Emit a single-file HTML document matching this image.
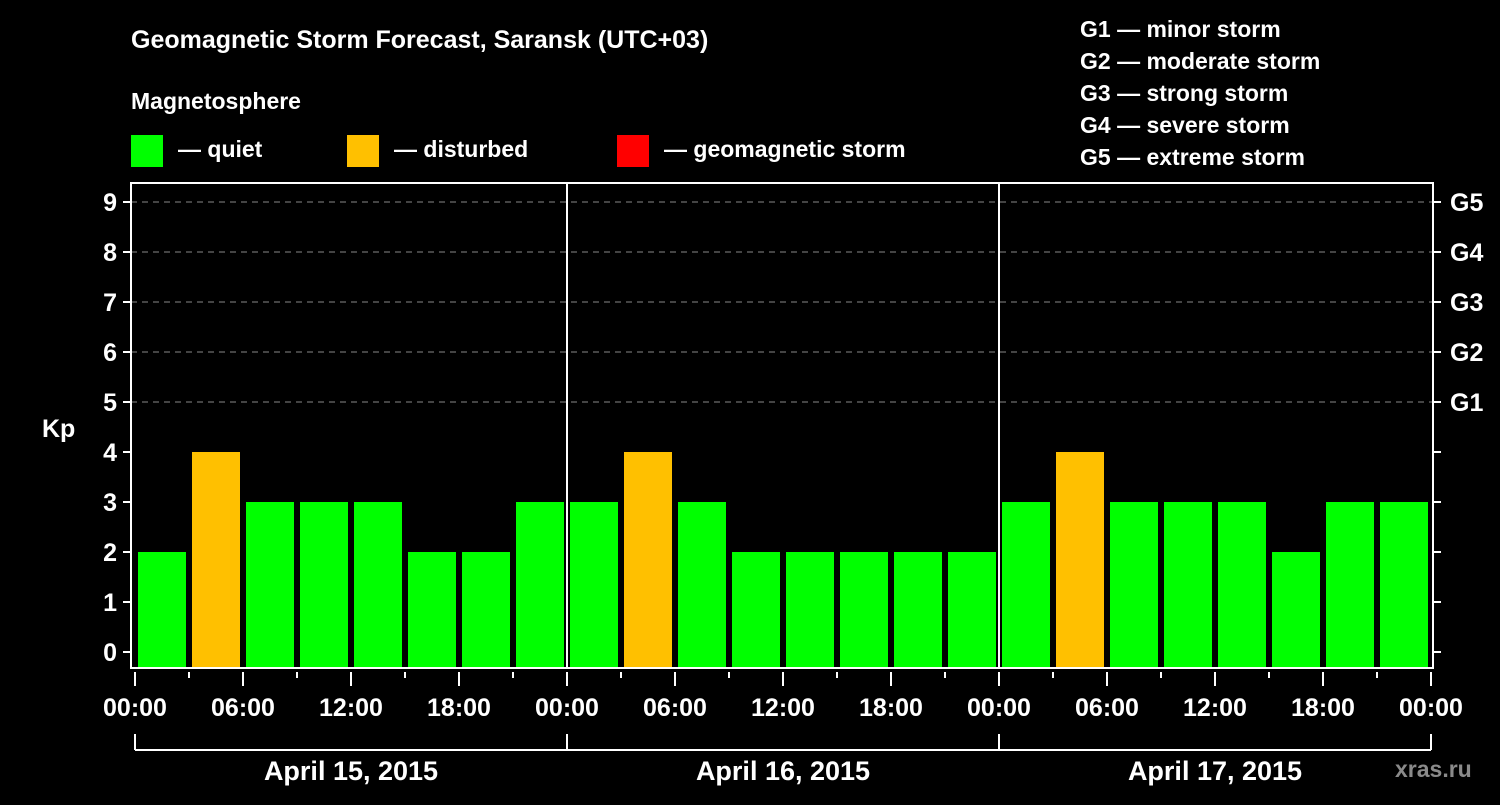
<!DOCTYPE html>
<html><head><meta charset="utf-8"><style>
body{margin:0;background:#000;width:1500px;height:800px;overflow:hidden}
svg text{font-family:"Liberation Sans",Arial,sans-serif;font-weight:bold;fill:#fff}
</style></head><body>
<svg id="c" width="1500" height="800" viewBox="0 0 1500 800">
<text x="131" y="48" font-size="25">Geomagnetic Storm Forecast, Saransk (UTC+03)</text>
<text x="131" y="109" font-size="23">Magnetosphere</text>
<g><rect x="131" y="135" width="32" height="32" fill="#00ff00"/><text x="178" y="157" font-size="23">— quiet</text></g>
<g><rect x="347" y="135" width="32" height="32" fill="#ffc000"/><text x="394" y="157" font-size="23">— disturbed</text></g>
<g><rect x="617" y="135" width="32" height="32" fill="#ff0000"/><text x="664" y="157" font-size="23">— geomagnetic storm</text></g>
<g font-size="23">
<text x="1080" y="37">G1 — minor storm</text><text x="1080" y="69">G2 — moderate storm</text><text x="1080" y="101">G3 — strong storm</text><text x="1080" y="133">G4 — severe storm</text><text x="1080" y="165">G5 — extreme storm</text></g>
<text x="42" y="437" font-size="25">Kp</text>
<text x="1395" y="777" font-size="23" fill="#888" style="fill:#8a8a8a">xras.ru</text>
<g id="grid"></g><g id="bars"></g><g id="axes"></g>
</svg>
<script>
const days=["April 15, 2015","April 16, 2015","April 17, 2015"];
const kpValues=[2,4,3,3,3,2,2,3, 3,4,3,2,2,2,2,2, 3,4,3,3,3,2,3,3];
const yTicks=[0,1,2,3,4,5,6,7,8,9];
const gLabels=["G1","G2","G3","G4","G5"];
const hourLabels=["00:00","06:00","12:00","18:00"];
const NS="http://www.w3.org/2000/svg";
const L=131,R=1433,T=183,B=668,X0=135,X1=1431;
const y=v=>652-v*50;
const slot=(X1-X0)/kpValues.length;
const x=i=>X0+i*slot;
function mk(p,tag,a){const e=document.createElementNS(NS,tag);for(const k in a)e.setAttribute(k,a[k]);p.appendChild(e);return e;}
const grid=document.getElementById('grid'),bars=document.getElementById('bars'),axes=document.getElementById('axes');
yTicks.forEach(v=>{
 if(v>=5){const g=mk(grid,'line',{x1:L,x2:R,y1:y(v),y2:y(v),stroke:'#888','stroke-dasharray':'6,5','stroke-width':1});
 
 }
 mk(axes,'line',{x1:L-8,x2:L,y1:y(v),y2:y(v),stroke:'#fff','stroke-width':2});
 mk(axes,'line',{x1:R,x2:R+8,y1:y(v),y2:y(v),stroke:'#fff','stroke-width':2});
 const t=mk(axes,'text',{x:L-14,y:y(v)+9,'text-anchor':'end','font-size':25});t.textContent=v;
 
 
 if(v>=5){const g=mk(axes,'text',{x:R+17,y:y(v)+9,'font-size':25});g.textContent=gLabels[v-5];
 
 }
});
kpValues.forEach((v,i)=>{
 const c=v>=5?'#ff0000':(v>=4?'#ffc000':'#00ff00');
 const r=mk(bars,'rect',{x:x(i)+3,y:y(v),width:slot-6,height:B-y(v),fill:c});
 
 
});
mk(axes,'rect',{x:L,y:T,width:R-L,height:B-T,fill:'none',stroke:'#fff','stroke-width':2});
const dayW=(X1-X0)/days.length;
for(let d=1;d<days.length;d++)mk(axes,'line',{x1:X0+d*dayW,x2:X0+d*dayW,y1:T,y2:B,stroke:'#fff','stroke-width':2});
for(let i=0;i<=kpValues.length;i++){
 const major=i%2===0;
 mk(axes,'line',{x1:x(i),x2:x(i),y1:672,y2:major?686:678,stroke:'#fff','stroke-width':2});
 if(major){const t=mk(axes,'text',{x:x(i),y:716,'text-anchor':'middle','font-size':25});t.textContent=hourLabels[(i/2)%4];
 
 }
}
mk(axes,'line',{x1:X0,x2:X1,y1:750,y2:750,stroke:'#fff','stroke-width':2});
days.forEach((d,k)=>{
 mk(axes,'line',{x1:X0+k*dayW,x2:X0+k*dayW,y1:734,y2:750,stroke:'#fff','stroke-width':2});
 const t=mk(axes,'text',{x:X0+(k+.5)*dayW,y:780,'text-anchor':'middle','font-size':27});t.textContent=d;
 
 
});
mk(axes,'line',{x1:X1,x2:X1,y1:734,y2:750,stroke:'#fff','stroke-width':2});
</script>
</body></html>
